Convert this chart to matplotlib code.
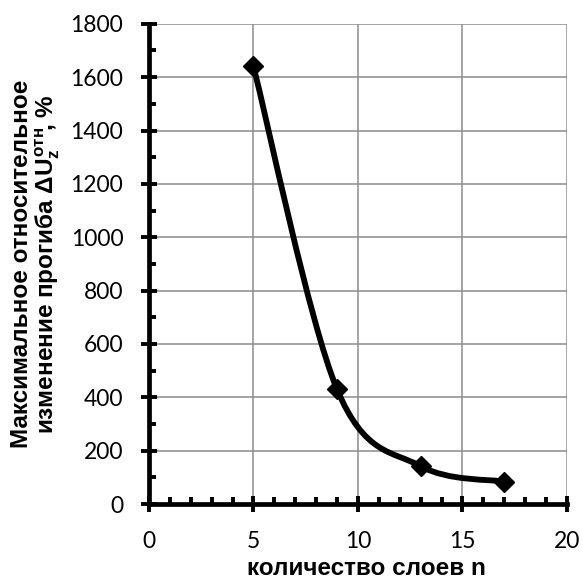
import numpy as np
import matplotlib
matplotlib.use("Agg")
import matplotlib.pyplot as plt
from matplotlib.path import Path
from matplotlib.patches import PathPatch
from matplotlib.ticker import MultipleLocator

# данные: количество слоев и максимальное относительное изменение прогиба
layers = [5, 9, 13, 17]
delta_uz = [1640, 430, 142, 84]

plt.rcParams['mathtext.fontset'] = 'custom'
plt.rcParams['mathtext.rm'] = 'Liberation Sans:bold'
plt.rcParams['mathtext.it'] = 'Liberation Sans:bold'
plt.rcParams['mathtext.bf'] = 'Liberation Sans:bold'


def smooth_path(xs, ys):
    # сглаженная линия как в Excel (кривые Безье по соседним точкам)
    pts = np.column_stack([xs, ys]).astype(float)
    n = len(pts)
    verts = [pts[0]]
    codes = [Path.MOVETO]
    for i in range(n - 1):
        p0 = pts[i - 1] if i > 0 else pts[i]
        p1 = pts[i]
        p2 = pts[i + 1]
        p3 = pts[i + 2] if i + 2 < n else pts[i + 1]
        c1 = p1 + (p2 - p0) / 6.0
        c2 = p2 - (p3 - p1) / 6.0
        verts += [c1, c2, p2]
        codes += [Path.CURVE4] * 3
    return Path(verts, codes)


fig = plt.figure(figsize=(5.82, 5.80), dpi=100)
ax = fig.add_axes([0.256, 0.131, 0.718, 0.828])

ax.add_patch(PathPatch(smooth_path(layers, delta_uz), fill=False,
                       edgecolor='black', linewidth=4.2, capstyle='round',
                       zorder=3))
ax.plot(layers, delta_uz, linestyle='none', marker='D', markersize=10,
        color='black', zorder=4)

ax.set_xlim(0, 20)
ax.set_ylim(0, 1800)
ax.xaxis.set_major_locator(MultipleLocator(5))
ax.xaxis.set_minor_locator(MultipleLocator(1))
ax.yaxis.set_major_locator(MultipleLocator(200))
ax.yaxis.set_minor_locator(MultipleLocator(100))

ax.grid(True, which='major', color='#8c8c8c', linewidth=1.1, zorder=0)
ax.set_axisbelow(True)

for s in ['top', 'right']:
    ax.spines[s].set_visible(False)
for s in ['left', 'bottom']:
    ax.spines[s].set_linewidth(3.4)
    ax.spines[s].set_zorder(5)

ax.tick_params(which='major', direction='inout', length=11, width=2.8,
               labelsize=16.5)
ax.tick_params(which='minor', direction='in', length=5, width=2.8)
ax.tick_params(axis='x', which='major', pad=14)
ax.tick_params(axis='y', which='major', pad=13)
for lab in ax.get_xticklabels() + ax.get_yticklabels():
    lab.set_fontfamily('Lato')

ax.set_xlabel('количество слоев n', fontsize=17.5, fontweight='bold',
              family='Liberation Sans')
ax.xaxis.label.set_va('baseline')
ax.xaxis.set_label_coords(0.52, -0.147)
ax.set_ylabel('Максимальное относительное\n'
              'изменение прогиба $\\Delta U_z^{отн}\\!$, %',
              fontsize=17.5, fontweight='bold', family='Liberation Sans',
              labelpad=6, linespacing=1.0)

fig.savefig('out.png', dpi=100)
